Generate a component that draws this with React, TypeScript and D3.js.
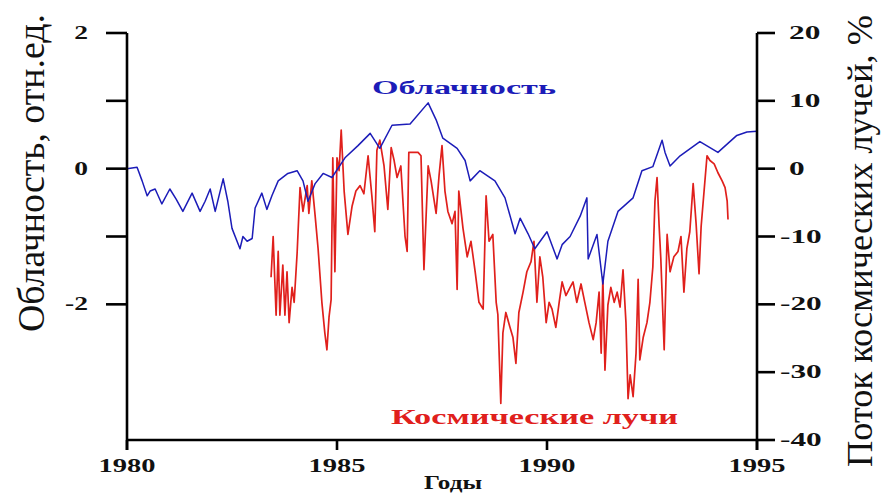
import * as d3 from 'd3'

// облачность, отн.ед. (левая ось)
const cloudYears = [
  1980.0, 1980.24, 1980.36, 1980.48, 1980.55, 1980.67, 1980.83, 1981.02, 1981.17, 1981.33,
  1981.55, 1981.74, 1981.86, 1981.98, 1982.1, 1982.29, 1982.4, 1982.5, 1982.69, 1982.76,
  1982.86, 1982.98, 1983.05, 1983.21, 1983.33, 1983.45, 1983.6, 1983.83, 1984.05, 1984.19,
  1984.31, 1984.48, 1984.67, 1984.88, 1985.19, 1985.5, 1985.79, 1986.02, 1986.31, 1986.74,
  1987.17, 1987.36, 1987.52, 1987.86, 1988.05, 1988.17, 1988.4, 1988.76, 1989.0, 1989.24,
  1989.36, 1989.55, 1989.71, 1990.0, 1990.24, 1990.36, 1990.55, 1990.79, 1990.95, 1990.98,
  1991.19, 1991.33, 1991.45, 1991.69, 1992.05, 1992.26, 1992.52, 1992.74, 1992.81, 1992.93,
  1993.17, 1993.64, 1994.07, 1994.52, 1994.76, 1995.0,
]
const cloudValues = [
  0.0, 0.02, -0.18, -0.4, -0.33, -0.3, -0.52, -0.3, -0.45, -0.63,
  -0.36, -0.63, -0.48, -0.3, -0.63, -0.15, -0.48, -0.88, -1.18, -1.0,
  -1.07, -1.03, -0.58, -0.36, -0.6, -0.4, -0.18, -0.07, -0.03, -0.18,
  -0.48, -0.22, -0.07, -0.13, 0.16, 0.34, 0.52, 0.3, 0.64, 0.66,
  0.97, 0.72, 0.45, 0.3, 0.12, -0.18, -0.03, -0.18, -0.43, -0.96,
  -0.73, -0.96, -1.18, -0.93, -1.33, -1.12, -1.0, -0.7, -0.43, -1.33,
  -0.97, -1.7, -1.07, -0.63, -0.43, -0.03, 0.03, 0.42, 0.24, 0.04,
  0.19, 0.4, 0.24, 0.49, 0.54, 0.55,
]

// поток космических лучей, % (правая ось)
const rayYears = [
  1983.43, 1983.48, 1983.55, 1983.6, 1983.64, 1983.71, 1983.76, 1983.81, 1983.86, 1983.93,
  1983.98, 1984.05, 1984.12, 1984.19, 1984.29, 1984.33, 1984.4, 1984.48, 1984.55, 1984.64,
  1984.71, 1984.76, 1984.81, 1984.86, 1984.9, 1984.95, 1985.0, 1985.05, 1985.1, 1985.17,
  1985.26, 1985.36, 1985.45, 1985.55, 1985.64, 1985.74, 1985.83, 1985.9, 1985.95, 1986.02,
  1986.12, 1986.21, 1986.29, 1986.36, 1986.43, 1986.52, 1986.62, 1986.67, 1986.71, 1986.81,
  1986.93, 1987.0, 1987.07, 1987.17, 1987.24, 1987.36, 1987.43, 1987.5, 1987.57, 1987.64,
  1987.74, 1987.81, 1987.86, 1987.9, 1988.0, 1988.1, 1988.19, 1988.29, 1988.38, 1988.48,
  1988.55, 1988.62, 1988.71, 1988.79, 1988.83, 1988.9, 1988.95, 1989.02, 1989.12, 1989.19,
  1989.26, 1989.33, 1989.43, 1989.52, 1989.62, 1989.69, 1989.76, 1989.83, 1989.9, 1989.98,
  1990.05, 1990.12, 1990.21, 1990.29, 1990.36, 1990.45, 1990.55, 1990.62, 1990.71, 1990.81,
  1990.9, 1991.0, 1991.1, 1991.17, 1991.24, 1991.29, 1991.33, 1991.38, 1991.45, 1991.52,
  1991.6, 1991.67, 1991.74, 1991.81, 1991.88, 1991.93, 1991.98, 1992.05, 1992.12, 1992.17,
  1992.21, 1992.29, 1992.38, 1992.45, 1992.52, 1992.57, 1992.62, 1992.67, 1992.71, 1992.79,
  1992.86, 1992.93, 1993.02, 1993.12, 1993.19, 1993.26, 1993.33, 1993.4, 1993.48, 1993.55,
  1993.62, 1993.67, 1993.74, 1993.81, 1993.88, 1993.98, 1994.07, 1994.17, 1994.24, 1994.29,
  1994.31,
]
const rayValues = [
  -16.0, -10.0, -21.6, -12.2, -21.6, -14.2, -21.6, -15.2, -22.7, -17.5,
  -19.7, -12.5, -2.8, -6.3, -2.5, -6.6, -1.8, -7.0, -11.8, -19.7,
  -24.2, -26.7, -21.9, -19.3, 1.6, -15.2, 1.6, -0.3, 5.7, -3.3,
  -9.7, -5.5, -3.3, -2.5, -3.7, 1.9, -4.0, -9.3, 2.7, 4.2,
  0.4, -6.0, 3.1, 1.2, -1.3, 0.4, -10.0, -12.2, 2.4, 2.4,
  2.4, 1.9, -14.9, 0.4, -1.8, -6.6, -1.0, 3.4, -3.3, -6.3,
  -8.1, -6.3, -17.8, -3.3, -8.8, -13.0, -10.7, -15.2, -19.7, -20.7,
  -4.0, -10.7, -9.7, -19.7, -21.5, -34.6, -24.2, -21.2, -23.4, -24.9,
  -28.7, -21.2, -18.2, -15.2, -13.7, -10.7, -19.7, -13.0, -16.0, -22.7,
  -19.7, -20.7, -23.4, -19.7, -16.7, -18.7, -17.5, -16.7, -19.7, -17.0,
  -19.7, -22.7, -25.2, -22.7, -18.2, -27.2, -16.0, -29.7, -20.1, -17.5,
  -19.7, -18.2, -20.4, -14.9, -22.7, -33.9, -30.4, -33.6, -27.2, -16.3,
  -28.2, -24.9, -22.7, -19.7, -14.5, -4.8, -1.3, -8.5, -13.3, -26.7,
  -9.7, -15.2, -13.0, -12.2, -10.0, -18.2, -11.8, -9.3, -2.2, -8.1,
  -15.5, -8.5, -3.3, 1.9, 1.2, 0.7, -0.6, -1.8, -2.8, -4.8,
  -7.5,
]

const yearTicks = [1980, 1985, 1990, 1995]
const cloudTicks = [2, 1, 0, -1, -2]
const cloudTickLabels = ['2', '', '0', '', '-2']
const rayTicks = [20, 10, 0, -10, -20, -30, -40]

const W = 888
const H = 494
const serif = "'Liberation Serif', 'Times New Roman', serif"

export default function App() {
  const x = d3.scaleLinear().domain([1980, 1995]).range([127, 757])
  const yL = d3.scaleLinear().domain([-4, 2]).range([440, 33])
  const yR = d3.scaleLinear().domain([-40, 20]).range([440, 33])

  const cloudLine = d3.line<number>()
    .x((_, i) => x(cloudYears[i]))
    .y(d => yL(d))
  const rayLine = d3.line<number>()
    .x((_, i) => x(rayYears[i]))
    .y(d => yR(d))

  const [x0, x1] = x.range()
  const [yBottom, yTop] = yL.range()

  // растянутый по горизонтали жирный шрифт, как на исходнике
  const label = (tx: number, ty: number, s: string, anchor: string, sx = 1.5, size = 19) => (
    <text
      transform={`translate(${tx},${ty}) scale(${sx},1)`}
      textAnchor={anchor}
      style={{ fontFamily: serif, fontWeight: 'bold', fontSize: size }}
      fill="#111"
    >
      {s}
    </text>
  )

  return (
    <div style={{ position: 'absolute', left: 0, top: 0 }}>
      <svg width={W} height={H} style={{ display: 'block', background: '#fff' }}>
        <path d={rayLine(rayValues) || ''} fill="none" stroke="#e0201c" strokeWidth={1.7} strokeLinejoin="round" />
        <path d={cloudLine(cloudValues) || ''} fill="none" stroke="#1c1cb8" strokeWidth={1.5} strokeLinejoin="round" />

        {/* оси */}
        <g stroke="#000" strokeWidth={2.6} fill="none">
          <line x1={x0} x2={x0} y1={yTop} y2={yBottom + 10} />
          <line x1={x1} x2={x1} y1={yTop} y2={yBottom + 10} />
          <line x1={x0} x2={x1} y1={yBottom} y2={yBottom} />
          {yearTicks.map(t => (
            <line key={t} x1={x(t)} x2={x(t)} y1={yBottom} y2={yBottom + 10} />
          ))}
          {cloudTicks.map(t => (
            <line key={t} x1={x0 - 21} x2={x0} y1={yL(t)} y2={yL(t)} />
          ))}
          {rayTicks.map(t => (
            <line key={t} x1={x1} x2={x1 + 18} y1={yR(t)} y2={yR(t)} />
          ))}
        </g>

        {cloudTicks.map((t, i) => (
          <g key={t}>{cloudTickLabels[i] && label(88, yL(t) + 6, cloudTickLabels[i], 'end', 1.45)}</g>
        ))}
        {rayTicks.map(t => (
          <g key={t}>{label(t < 0 ? 780 : 789, yR(t) + 6, String(t), 'start', 1.65)}</g>
        ))}
        {yearTicks.map(t => (
          <g key={t}>{label(x(t), 472, String(t), 'middle', 1.5)}</g>
        ))}
        {label(453, 489, 'Годы', 'middle', 1.4, 18)}

        <text
          transform="translate(44,173) rotate(-90)"
          textAnchor="middle"
          style={{ fontFamily: serif, fontSize: 38 }}
          textLength={318}
          lengthAdjust="spacingAndGlyphs"
          fill="#111"
        >
          Облачность, отн.ед.
        </text>
        <text
          transform="translate(872,241) rotate(-90)"
          textAnchor="middle"
          style={{ fontFamily: serif, fontSize: 36 }}
          textLength={452}
          lengthAdjust="spacingAndGlyphs"
          fill="#111"
        >
          Поток космических лучей, %
        </text>

        <text
          x={372}
          y={94}
          style={{ fontFamily: serif, fontWeight: 'bold', fontSize: 19 }}
          textLength={184}
          lengthAdjust="spacingAndGlyphs"
          fill="#1c1cb8"
        >
          Облачность
        </text>
        <text
          x={391}
          y={424}
          style={{ fontFamily: serif, fontWeight: 'bold', fontSize: 21 }}
          textLength={287}
          lengthAdjust="spacingAndGlyphs"
          fill="#e0201c"
        >
          Космические лучи
        </text>
      </svg>
    </div>
  )
}
